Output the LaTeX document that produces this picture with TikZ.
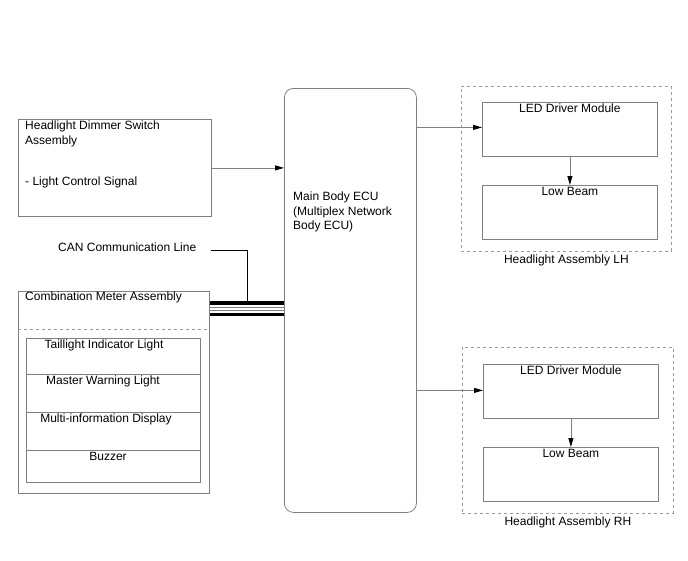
\documentclass[tikz,border=0pt]{standalone}
\usepackage{fontspec}
\setmainfont{Liberation Sans}
\usetikzlibrary{arrows.meta,positioning}
\definecolor{boxgray}{gray}{0.5}
\definecolor{dashgray}{gray}{0.6}

\begin{document}
\begin{tikzpicture}[x=1pt,y=-1pt,
  every node/.style={font=\fontsize{12}{14.5}\selectfont,inner sep=0pt},
  box/.style={draw=boxgray,line width=0.8pt,anchor=north west},
  group/.style={draw=dashgray,dashed,line width=0.8pt,anchor=north west},
  txt/.style={anchor=north west,align=left},
  arr/.style={draw=boxgray,line width=0.8pt,-{Triangle[length=9pt,width=5pt,color=black]}},
  bus/.style={black,line width=3.5pt},
  busthin/.style={boxgray,line width=0.8pt}]
\useasboundingbox (0,0) rectangle (688,560);

% headlight dimmer switch
\node[box,minimum width=193pt,minimum height=97pt] (dimmer) at (18,119) {};
\node[txt] (dimmertxt) at (25,121) {Headlight Dimmer Switch\\Assembly};
\node[txt] (dimmersig) at (25,177) {- Light Control Signal};

% main body ecu
\node[box,rounded corners=9pt,minimum width=132pt,minimum height=424pt] (ecu) at (284,88) {};
\node[txt] (ecutxt) at (293,192) {Main Body ECU\\(Multiplex Network\\Body ECU)};
\draw[arr] (dimmer.east) -- (dimmer.east -| ecu.west);

% combination meter
\node[box,minimum width=191pt,minimum height=202pt] (meter) at (18,291) {};
\node[txt] (metertxt) at (25,292) {Combination Meter Assembly};
\draw[group] ([yshift=-38pt]meter.north west) -- ([yshift=-38pt]meter.north east);
\foreach \n/\top/\h/\cx/\t in {1/338/36/104/Taillight Indicator Light,
    2/374/38/103/Master Warning Light,
    3/412/38/106/Multi-information Display,
    4/450/32/108/Buzzer}{
  \node[box,minimum width=174pt,minimum height=\h pt] (row\n) at (26,\top) {};
  \node[anchor=north] (rowtxt\n) at (\cx,\top+2) {\t};
}

% can communication line
\node[txt] (cantxt) at (58,243) {CAN Communication Line};
\coordinate (canstart) at (211,250);
\coordinate (cantap) at (247,301);
\draw[black,line width=0.8pt] (canstart) -| (cantap);
\draw[bus] ([yshift=-12pt]meter.north east) -- ([yshift=-12pt]meter.north east -| ecu.west);
\draw[busthin] ([yshift=-16.5pt]meter.north east) -- ([yshift=-16.5pt]meter.north east -| ecu.west);
\draw[busthin] ([yshift=-19pt]meter.north east) -- ([yshift=-19pt]meter.north east -| ecu.west);
\draw[bus] ([yshift=-23.3pt]meter.north east) -- ([yshift=-23.3pt]meter.north east -| ecu.west);

% headlight assembly lh
\node[group,minimum width=210pt,minimum height=165pt] (lh) at (461,86) {};
\node[box,minimum width=175pt,minimum height=54pt] (ledlh) at (482,102) {};
\node[box,minimum width=175pt,minimum height=54pt] (beamlh) at (482,185) {};
\node[anchor=north] (ledlhtxt) at ([yshift=-2pt]ledlh.north) {LED Driver Module};
\node[anchor=north] (beamlhtxt) at ([yshift=-2pt]beamlh.north) {Low Beam};
\node[below=3pt of lh] (lhtxt) {Headlight Assembly LH};
\draw[arr] (ledlh.west -| ecu.east) ++(0,-2) coordinate (ecuoutlh) -- (ecuoutlh -| ledlh.west);
\draw[arr] (ledlh.south) -- (beamlh.north);

% headlight assembly rh
\node[group,minimum width=211pt,minimum height=166pt] (rh) at (462,347) {};
\node[box,minimum width=175pt,minimum height=54pt] (ledrh) at (483,364) {};
\node[box,minimum width=175pt,minimum height=54pt] (beamrh) at (483,447) {};
\node[anchor=north] (ledrhtxt) at ([yshift=-2pt]ledrh.north) {LED Driver Module};
\node[anchor=north] (beamrhtxt) at ([yshift=-2pt]beamrh.north) {Low Beam};
\node[below=3pt of rh] (rhtxt) {Headlight Assembly RH};
\draw[arr] (ledrh.west -| ecu.east) ++(0,-1) coordinate (ecuoutrh) -- (ecuoutrh -| ledrh.west);
\draw[arr] (ledrh.south) -- (beamrh.north);
\end{tikzpicture}
\end{document}
